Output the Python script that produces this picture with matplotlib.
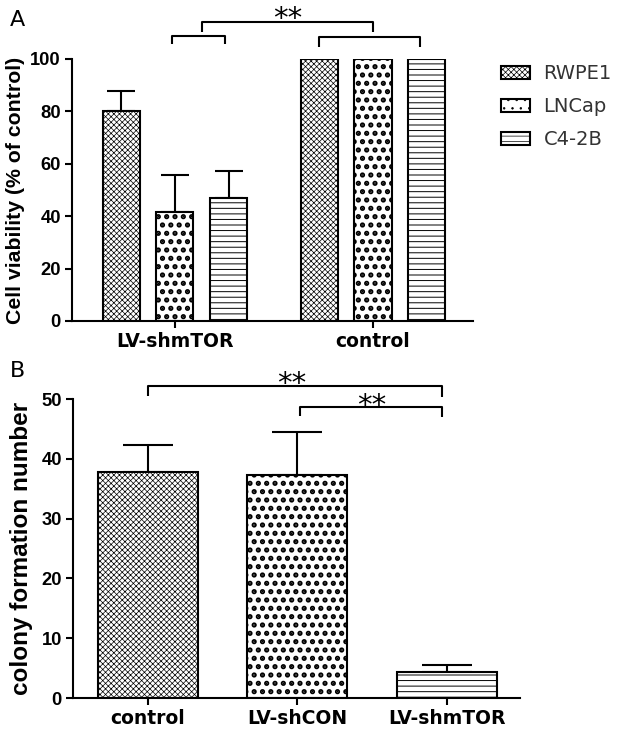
#bibliotecas
import numpy as np
import matplotlib.pyplot as plt
from matplotlib.patches import Patch

plt.rcParams['font.family'] = ['DejaVu Sans']
plt.rcParams['hatch.linewidth'] = 0.5

#----------------------------------------------------------------------
#   dados do painel A (viabilidade, % do controle)
#----------------------------------------------------------------------
grupos_a = ['LV-shmTOR', 'control']
linhagens = ['RWPE1', 'LNCap', 'C4-2B']
rwpe1 = [80.2, 100]
lncap = [41.5, 100]
c42b = [47.0, 100]
rwpe1_erro = [7.7, 0]
lncap_erro = [14.2, 0]
c42b_erro = [10.2, 0]

#----------------------------------------------------------------------
#   dados do painel B (colonias)
#----------------------------------------------------------------------
grupos_b = ['control', 'LV-shCON', 'LV-shmTOR']
colonias = [37.8, 37.3, 4.4]
colonias_erro = [4.5, 7.2, 1.2]

# estilos
hach = ['xxxxxx', '..', '---']
hach_lw = [0.5, 2.5, 0.7]
lw = 1.5
arial = ['Liberation Sans', 'DejaVu Sans']


def colchete(ax, x1, x2, y, h1, h2=None):
    if h2 is None:
        h2 = h1
    ax.plot([x1, x1, x2, x2], [y - h1, y, y, y - h2], color='black',
            lw=lw, clip_on=False, solid_capstyle='butt')


def barras(ax, x, y, larg, i):
    with plt.rc_context({'hatch.linewidth': hach_lw[i]}):
        b = ax.bar(x, y, width=larg, color='white', edgecolor='black',
                   linewidth=lw, hatch=hach[i], zorder=2)
    for p in b.patches:
        if hasattr(p, 'set_hatch_linewidth'):
            p.set_hatch_linewidth(hach_lw[i])
    return b


def estilo_eixo(ax):
    ax.spines['top'].set_visible(False)
    ax.spines['right'].set_visible(False)
    ax.spines['left'].set_linewidth(lw)
    ax.spines['bottom'].set_linewidth(lw)
    ax.tick_params(width=lw, length=5, pad=3)
    for t in ax.get_xticklabels():
        t.set_fontweight('bold')
        t.set_fontsize(13.5)
    for t in ax.get_yticklabels():
        t.set_fontweight('bold')
        t.set_fontsize(13.2)
        t.set_family(arial)


fig = plt.figure(figsize=(6.24, 7.35), dpi=100)

############################ painel A ############################
ax = fig.add_axes([0.1154, 0.5633, 0.6426, 0.3565])
pos = np.arange(len(grupos_a))
desl = 0.272
larg = 0.187
series = [rwpe1, lncap, c42b]
erros = [rwpe1_erro, lncap_erro, c42b_erro]
for i in range(0, 3):
    xs = pos + (i - 1) * desl
    barras(ax, xs, series[i], larg, i)
    # so desenha erro quando existe
    m = np.array(erros[i]) > 0
    ax.errorbar(xs[m], np.array(series[i])[m], yerr=[np.zeros(m.sum()), np.array(erros[i])[m]],
                fmt='none', ecolor='black', elinewidth=lw, capsize=10, capthick=lw, zorder=1)

ax.set_xlim(-0.52, 1.505)
ax.set_ylim(0, 100)
ax.set_yticks([0, 20, 40, 60, 80, 100])
ax.set_xticks(pos)
ax.set_xticklabels(grupos_a)
ax.set_ylabel('Cell viability (% of control)', fontsize=15.3, fontweight='bold', family=arial)
ax.yaxis.set_label_coords(-0.117, 0.5)
estilo_eixo(ax)

# colchetes e asteriscos
e1 = (0 + desl) / 2
e2 = 1.0
colchete(ax, 0 - 0.015, desl - 0.02, 108.7, 3)
colchete(ax, 1 - desl, 1 + desl - 0.035, 108.3, 3.6)
colchete(ax, e1, e2, 114.1, 3.8)
ax.text((e1 + e2) / 2, 115.3, '**', ha='center', va='center', fontsize=21, clip_on=False)

# legenda
handles = []
for i in range(3):
    with plt.rc_context({'hatch.linewidth': hach_lw[i]}):
        h = Patch(facecolor='white', edgecolor='black', linewidth=lw, hatch=hach[i])
    if hasattr(h, 'set_hatch_linewidth'):
        h.set_hatch_linewidth(hach_lw[i])
    handles.append(h)
leg = fig.legend(handles, linhagens, loc='upper left', bbox_to_anchor=(0.79, 0.923),
                 frameon=False, fontsize=14, handlelength=1.5, handleheight=0.7,
                 labelspacing=0.72, handletextpad=0.7, borderaxespad=0)
for t in leg.get_texts():
    t.set_color('#333333')

fig.text(0.016, 0.965, 'A', fontsize=16)

############################ painel B ############################
bx = fig.add_axes([0.117, 0.0503, 0.716, 0.4068])
pos_b = np.arange(len(grupos_b))
for i in range(3):
    barras(bx, pos_b[i], colonias[i], 0.67, i)
bx.errorbar(pos_b, colonias, yerr=[np.zeros(3), colonias_erro], fmt='none', ecolor='black',
            elinewidth=lw, capsize=18, capthick=lw, zorder=1)
bx.set_xlim(-0.503, 2.49)
bx.set_ylim(0, 50)
bx.set_yticks([0, 10, 20, 30, 40, 50])
bx.set_xticks(pos_b)
bx.set_xticklabels(grupos_b)
bx.set_ylabel('colony formation number', fontsize=17.5, fontweight='bold', family=arial)
bx.yaxis.set_label_coords(-0.09, 0.5)
estilo_eixo(bx)

colchete(bx, 0, 1.97, 52.2, 1.7, 1.9)
bx.text(0.96, 52.5, '**', ha='center', va='center', fontsize=21, clip_on=False)
colchete(bx, 1.02, 1.97, 48.7, 1.5, 1.7)
bx.text(1.5, 48.8, '**', ha='center', va='center', fontsize=21, clip_on=False)

fig.text(0.016, 0.487, 'B', fontsize=16)

plt.savefig('out.png', dpi=100)
